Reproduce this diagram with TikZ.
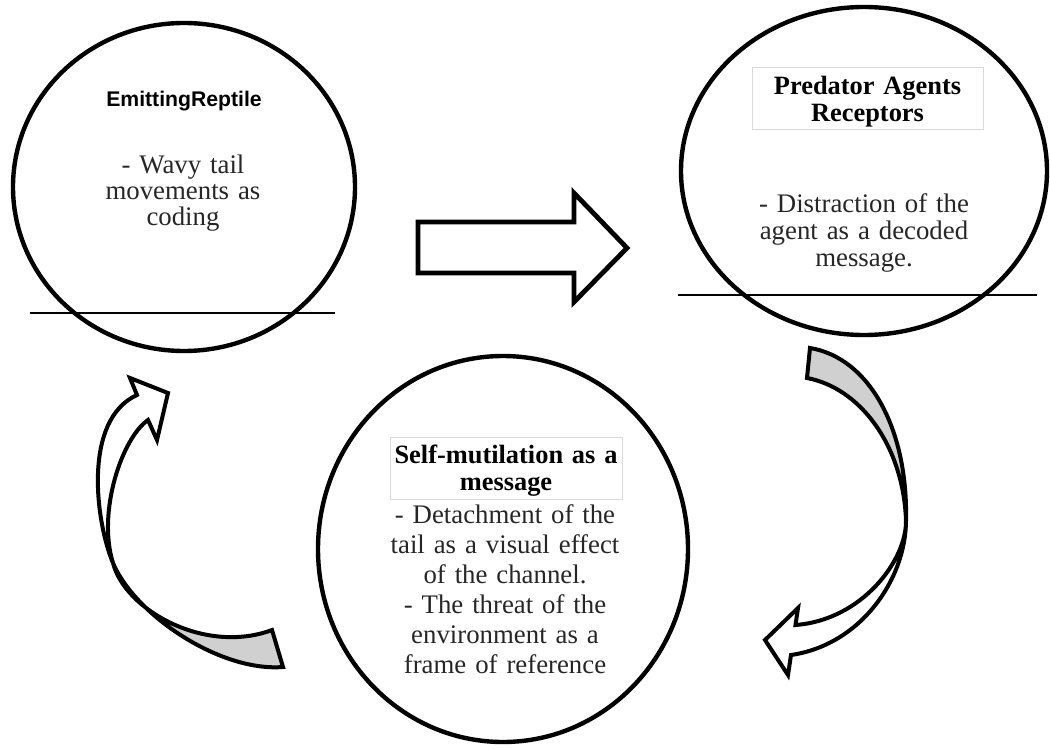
\documentclass[tikz,border=0pt]{standalone}
\usepackage{fontspec}
\setmainfont{Liberation Serif}
\setsansfont{Liberation Sans}
\usetikzlibrary{shapes.geometric}
\definecolor{bodygray}{RGB}{38,38,38}
\definecolor{ribbongray}{RGB}{208,208,208}
\definecolor{boxgray}{RGB}{217,217,217}
\tikzset{
	bubble/.style={
		ellipse,
		draw,
		line width=2.2pt,
		inner sep=0pt,
		outer sep=0pt
	},
	bodytext/.style={
		align=center,
		text=bodygray,
		inner sep=0pt,
		anchor=base,
		font=\fontsize{13.4}{13.4}\selectfont
	},
	titlebox/.style={
		draw=boxgray,
		line width=0.5pt,
		align=center,
		inner sep=0pt,
		text height=12pt,
		font=\bfseries\fontsize{13.2}{13.5}\selectfont
	},
	blockarrow/.style={
		draw,
		line width=2.4pt,
		fill=white,
		line join=miter
	},
	ribbon/.style={
		draw,
		line width=2pt,
		line join=miter
	},
	cutline/.style={
		line width=1pt
	}
}
\begin{document}
\begin{tikzpicture}[x=0.5pt,y=-0.5pt]
	\useasboundingbox (0,0) rectangle (1050,749);
	
	% Emitting reptile
	\node[bubble,minimum width=171pt,minimum height=164pt] (emitter) at (184,187) {};
	\node[anchor=base,inner sep=0pt,font=\sffamily\bfseries\fontsize{10.6}{12}\selectfont] (emitterTitle) at (184,107) {EmittingReptile};
	\node[bodytext,text width=120pt,font=\fontsize{13.4}{12.8}\selectfont] (emitterText) at (183,174) {- Wavy tail\\ movements as\\ coding};
	\draw[cutline] (30,313) -- (335,313);
	
	% Predator agents
	\node[bubble,minimum width=183pt,minimum height=164pt] (predator) at (864,171) {};
	\node[titlebox,text width=115.5pt,minimum height=31pt] (predatorTitle) at (867.5,99) {Predator Agents\\ Receptors};
	\node[bodytext,text width=130pt] (predatorText) at (864,213) {- Distraction of the\\ agent as a decoded\\ message.};
	\draw[cutline] (678,295) -- (1037,295);
	
	% Self-mutilation
	\node[bubble,minimum width=185pt,minimum height=193pt] (mutilation) at (503,549) {};
	\node[titlebox,text width=116pt,minimum height=31pt] (mutilationTitle) at (506,468) {Self-mutilation as a\\ message};
	\node[bodytext,text width=130pt,font=\fontsize{13.4}{15}\selectfont] (mutilationText) at (505,523) {- Detachment of the\\ tail as a visual effect\\ of the channel.\\ - The threat of the\\ environment as a\\ frame of reference};
	
	% Straight block arrow
	\draw[blockarrow] (418,222) -- (574,222) -- (574,193) -- (627,248) -- (574,302) -- (574,273) -- (418,273) -- cycle;
	
	% Curved arrow, right side
	\draw[ribbon,fill=ribbongray] (810,348) .. controls (870,358) and (908,430) .. (906,520) .. controls (903,445) and (860,388) .. (807,378) -- cycle;
	\draw[ribbon,fill=white] (906,520) .. controls (906,580) and (860,645) .. (791,655) -- (788,675) -- (765,640) -- (798,608) -- (795.5,625) .. controls (862,620) and (907,560) .. (906,520) -- cycle;
	
	% Curved arrow, left side
	\draw[ribbon,fill=ribbongray] (283,667) .. controls (220,672) and (135,615) .. (113,563) .. controls (125,610) and (205,655) .. (272,630) -- cycle;
	\draw[ribbon,fill=white] (113,563) .. controls (96,523) and (82,420) .. (137,395) -- (130,378) -- (168,393) -- (157,440) -- (148,420) .. controls (122,438) and (97,512) .. (113,563) -- cycle;
	
\end{tikzpicture}
\end{document}
